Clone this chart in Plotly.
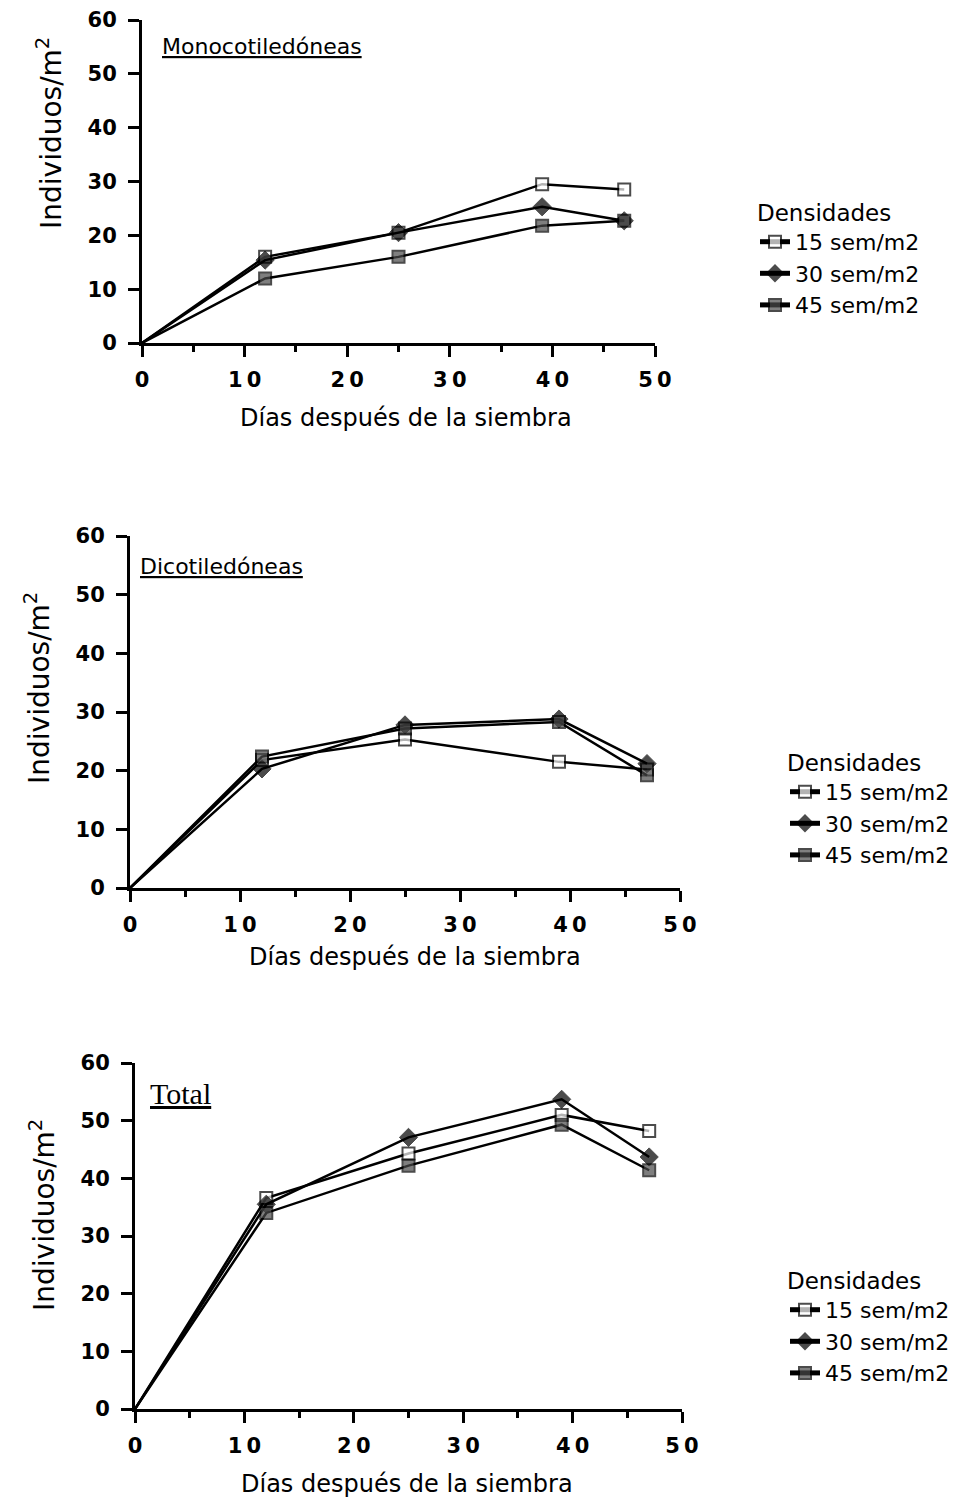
import plotly.graph_objects as go

# ---------------- data ----------------
dias = [0, 12, 25, 39, 47]
series_names = ["15 sem/m2", "30 sem/m2", "45 sem/m2"]

mono_15 = [0, 16.0, 20.5, 29.5, 28.5]
mono_30 = [0, 15.4, 20.5, 25.3, 22.7]
mono_45 = [0, 12.0, 16.0, 21.8, 22.7]

dico_15 = [0, 21.8, 25.3, 21.5, 20.2]
dico_30 = [0, 20.3, 27.8, 28.8, 21.2]
dico_45 = [0, 22.4, 27.2, 28.3, 19.2]

total_15 = [0, 36.6, 44.3, 51.0, 48.2]
total_30 = [0, 35.5, 47.1, 53.7, 43.7]
total_45 = [0, 34.0, 42.2, 49.3, 41.4]

panel_titles = ["Monocotiledóneas", "Dicotiledóneas", "Total"]
x_title = "Días después de la siembra"
y_title = "Individuos/m<sup>2</sup>"
legend_title = "Densidades"

x_tickvals = [0, 10, 20, 30, 40, 50]
x_ticktext = ["0", "1\u20090", "2\u20090", "3\u20090", "4\u20090", "5\u20090"]
y_tickvals = [0, 10, 20, 30, 40, 50, 60]

# ---------------- layout helpers ----------------
W, H = 959, 1501
OFF = 8  # page body margin offset
FONT = "DejaVu Sans"


def px_x(v):
    return (v - OFF) / W


def px_y(v):
    return 1 - (v - OFF) / H


# axis boxes in page pixels: (left, right, top, bottom)
boxes = [(142, 655, 20, 343), (130, 680, 536, 888), (135, 682, 1063, 1409)]

styles = [
    dict(symbol="square", color="white", lw=2, size=12),
    dict(symbol="diamond", color="black", lw=1, size=14),
    dict(symbol="square", color="#4a4a4a", lw=2, size=12),
]

panels = [
    [mono_15, mono_30, mono_45],
    [dico_15, dico_30, dico_45],
    [total_15, total_30, total_45],
]

fig = go.Figure()

for p, series in enumerate(panels):
    sfx = "" if p == 0 else str(p + 1)
    for s, vals in enumerate(series):
        st = styles[s]
        sizes = [0 if d == 0 else st["size"] for d in dias]
        lws = [0 if d == 0 else st["lw"] for d in dias]
        fig.add_trace(go.Scatter(
            x=dias, y=vals, mode="lines+markers",
            name=series_names[s],
            line=dict(color="black", width=2.5),
            marker=dict(symbol=st["symbol"], color=st["color"], size=sizes,
                        line=dict(color="black", width=lws)),
            xaxis="x" + sfx, yaxis="y" + sfx,
            legend="legend" + sfx,
            showlegend=True,
        ))

layout = dict(
    width=W, height=H,
    margin=dict(l=0, r=0, t=0, b=0, autoexpand=False),
    paper_bgcolor="white", plot_bgcolor="white",
    font=dict(family=FONT, color="black", size=22),
)

legend_pos = [(925, 191), (955, 741), (955, 1259)]
xtitle_pos = [(406, 418), (415, 957), (407, 1484)]
ytitle_pos = [(50, 133), (37, 688), (42, 1215)]
ptitle_pos = [(160, 47), (138, 566), (148, 1093)]

tickfont = dict(family=FONT, size=21, weight="bold")

annotations = []
for p, (l, r, t, b) in enumerate(boxes):
    sfx = "" if p == 0 else str(p + 1)
    layout["xaxis" + sfx] = dict(
        domain=[px_x(l), px_x(r)], range=[0, 50], anchor="y" + sfx,
        automargin=False,
        showline=True, linecolor="black", linewidth=3,
        ticks="outside", ticklen=11, tickwidth=2.5, tickcolor="black",
        tickvals=x_tickvals, ticktext=x_ticktext,
        tickfont=tickfont,
        ticklabelstandoff=5,
        minor=dict(dtick=5, tick0=0, ticks="outside", ticklen=6, tickwidth=2.5, tickcolor="black"),
        showgrid=False, zeroline=False, fixedrange=True,
    )
    layout["yaxis" + sfx] = dict(
        domain=[px_y(b), px_y(t)], range=[0, 60], anchor="x" + sfx,
        automargin=False,
        showline=True, linecolor="black", linewidth=3,
        ticks="outside", ticklen=11, tickwidth=2.5, tickcolor="black",
        tickvals=y_tickvals,
        tickfont=tickfont,
        ticklabelstandoff=7,
        showgrid=False, zeroline=False, fixedrange=True,
    )
    lx, ly = legend_pos[p]
    layout["legend" + sfx] = dict(
        x=px_x(lx), y=px_y(ly), xanchor="right", yanchor="top",
        xref="paper", yref="paper",
        bgcolor="rgba(0,0,0,0)", borderwidth=0,
        font=dict(family=FONT, size=22, color="black"),
        title=dict(text=legend_title, side="top", font=dict(family=FONT, size=23)),
        tracegroupgap=0, itemsizing="constant",
    )
    tx, ty = xtitle_pos[p]
    annotations.append(dict(
        text=x_title, x=px_x(tx), y=px_y(ty), xref="paper", yref="paper",
        xanchor="center", yanchor="middle", showarrow=False,
        font=dict(family=FONT, size=24),
    ))
    yx, yy = ytitle_pos[p]
    annotations.append(dict(
        text=y_title, x=px_x(yx), y=px_y(yy), xref="paper", yref="paper",
        xanchor="center", yanchor="middle", showarrow=False, textangle=-90,
        font=dict(family=FONT, size=28),
    ))
    qx, qy = ptitle_pos[p]
    pfont = dict(family=FONT, size=22) if p < 2 else dict(family="Liberation Serif", size=30)
    annotations.append(dict(
        text="<u>" + panel_titles[p] + "</u>", x=px_x(qx), y=px_y(qy),
        xref="paper", yref="paper", xanchor="left", yanchor="middle",
        showarrow=False, font=pfont,
    ))

layout["annotations"] = annotations
fig.update_layout(**layout)

fig.write_html("out.html")
